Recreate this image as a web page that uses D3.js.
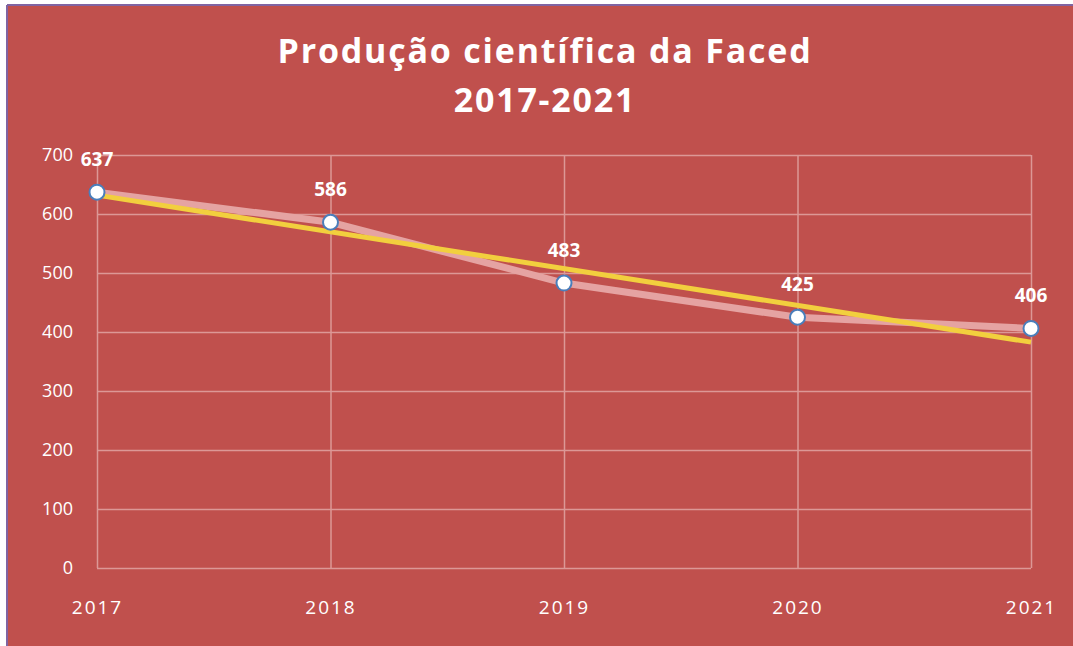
<!DOCTYPE html>
<html>
<head>
<meta charset="utf-8">
<script src="https://cdn.jsdelivr.net/npm/d3@7"></script>
<style>
  html, body { margin: 0; padding: 0; background: #fff; }
  svg { display: block; }
</style>
</head>
<body>
<svg id="chart"></svg>
<script>
const years = ['2017', '2018', '2019', '2020', '2021']
const counts = [637, 586, 483, 425, 406]
const yTicks = [0, 100, 200, 300, 400, 500, 600, 700]
const titleLines = ['Produção científica da Faced', '2017-2021']

const W = 1073
const H = 646
const margin = { top: 155, right: 42, bottom: 78, left: 97 }
const width = W - margin.left - margin.right
const height = H - margin.top - margin.bottom

const svg = d3.select('#chart').attr('width', W).attr('height', H)
const font = '"Open Sans", Lato, sans-serif'

// frame
svg.append('rect').attr('x', 7).attr('y', 5).attr('width', W - 7).attr('height', H - 5).attr('fill', '#C0504D')
svg.append('line').attr('x1', 7).attr('x2', W).attr('y1', 5).attr('y2', 5).attr('stroke', '#8064A2').attr('stroke-width', 2)
svg.append('line').attr('x1', 7).attr('x2', 7).attr('y1', 5).attr('y2', H).attr('stroke', '#8064A2').attr('stroke-width', 2)

// title
svg.append('g').selectAll('text')
  .data(titleLines)
  .enter().append('text')
    .attr('x', 545)
    .attr('y', function (d, i) { return 63 + i * 49 })
    .attr('text-anchor', 'middle')
    .attr('fill', '#fff')
    .attr('font-family', font)
    .attr('font-weight', 'bold')
    .attr('font-size', 34)
    .attr('letter-spacing', 1.8)
    .text(function (d) { return d })

const g = svg.append('g').attr('transform', 'translate(' + margin.left + ',' + margin.top + ')')

const x = d3.scalePoint().domain(years).range([0, width])
const y = d3.scaleLinear().domain([0, 700]).range([height, 0])

const gridColor = '#DC9896'

// horizontal grid
g.append('g')
  .call(d3.axisLeft(y).tickValues(yTicks).tickSize(-width).tickFormat(d3.format('d')))
  .call(function (a) {
    a.select('.domain').remove()
    a.selectAll('.tick line').attr('stroke', gridColor).attr('stroke-width', 1.5)
    a.selectAll('.tick text')
      .attr('x', -24)
      .attr('fill', '#fff')
      .attr('font-family', font)
      .attr('font-size', 18)
  })

// vertical grid + category labels
g.append('g')
  .attr('transform', 'translate(0,' + height + ')')
  .call(d3.axisBottom(x).tickSize(-height))
  .call(function (a) {
    a.select('.domain').remove()
    a.selectAll('.tick line').attr('stroke', gridColor).attr('stroke-width', 1.5)
    a.selectAll('.tick text')
      .attr('y', 46)
      .attr('dy', 0)
      .attr('fill', '#fff')
      .attr('font-family', font)
      .attr('font-size', 19)
      .attr('letter-spacing', 2)
  })

const points = years.map(function (yr, i) { return { year: yr, value: counts[i], idx: i } })

const line = d3.line()
  .x(function (d) { return x(d.year) })
  .y(function (d) { return y(d.value) })

g.append('path')
  .datum(points)
  .attr('d', line)
  .attr('fill', 'none')
  .attr('stroke', '#E5A3A2')
  .attr('stroke-width', 7)

// linear trendline (least squares on the data)
const n = counts.length
const mx = d3.mean(points, function (d) { return d.idx })
const my = d3.mean(counts)
const slope = d3.sum(points, function (d) { return (d.idx - mx) * (d.value - my) }) /
  d3.sum(points, function (d) { return (d.idx - mx) * (d.idx - mx) })
const trend = [points[0], points[n - 1]].map(function (d) {
  return { year: d.year, value: my + slope * (d.idx - mx) }
})

g.append('path')
  .datum(trend)
  .attr('d', line)
  .attr('fill', 'none')
  .attr('stroke', '#F2CF3E')
  .attr('stroke-width', 5)

g.selectAll('.marker')
  .data(points)
  .enter().append('circle')
    .attr('class', 'marker')
    .attr('cx', function (d) { return x(d.year) })
    .attr('cy', function (d) { return y(d.value) })
    .attr('r', 7.5)
    .attr('fill', '#fff')
    .attr('stroke', '#4A7EBB')
    .attr('stroke-width', 2)

g.selectAll('.label')
  .data(points)
  .enter().append('text')
    .attr('class', 'label')
    .attr('x', function (d) { return x(d.year) })
    .attr('y', function (d) { return y(d.value) - 26 })
    .attr('text-anchor', 'middle')
    .attr('fill', '#fff')
    .attr('font-family', font)
    .attr('font-weight', 'bold')
    .attr('font-size', 19)
    .text(function (d) { return d.value })
</script>
</body>
</html>
